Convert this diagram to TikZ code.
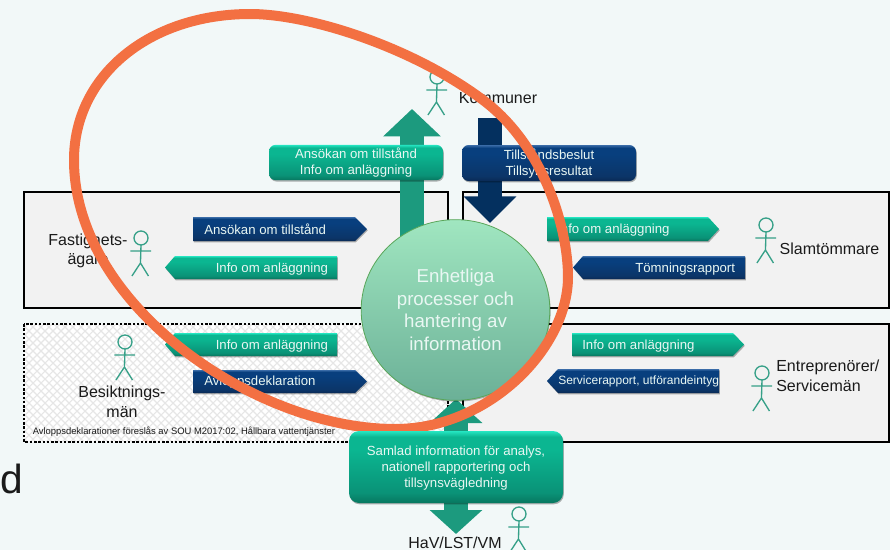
\documentclass[tikz,border=0pt]{standalone}
\usepackage{fontspec}
\setmainfont{Liberation Sans}
\usetikzlibrary{arrows.meta,shadows,shapes.geometric}
\definecolor{pagebg}{HTML}{F2F8F8}
\definecolor{boxbg}{HTML}{F2F2F2}
\definecolor{lat}{HTML}{E6E6E6}
\definecolor{ink}{HTML}{1A1A1A}
\definecolor{pale}{HTML}{E9F7F3}
\definecolor{bigg}{HTML}{1C9A7E}
\definecolor{bigb}{HTML}{04305F}
\definecolor{actorc}{HTML}{36A088}
\definecolor{ring}{HTML}{F37042}
\definecolor{gbot}{HTML}{07775F}
\definecolor{gdark}{HTML}{0A9277}
\definecolor{gmid}{HTML}{0BB691}
\definecolor{gtop}{HTML}{25E6C2}
\definecolor{bbot}{HTML}{0A2A55}
\definecolor{bdark}{HTML}{0B3568}
\definecolor{bmid}{HTML}{083F7E}
\definecolor{btop}{HTML}{3A6CA8}
\definecolor{hubb}{HTML}{6BB097}
\definecolor{hubt}{HTML}{A0E6C0}
\pgfdeclareverticalshading{greenbar}{100bp}{color(0bp)=(gbot);color(25bp)=(gbot);color(32bp)=(gdark);color(62bp)=(gmid);color(71bp)=(gmid);color(75bp)=(gtop);color(100bp)=(gtop)}
\pgfdeclareverticalshading{bluebar}{100bp}{color(0bp)=(bbot);color(25bp)=(bbot);color(32bp)=(bdark);color(62bp)=(bmid);color(71bp)=(bmid);color(75bp)=(btop);color(100bp)=(btop)}
\pgfdeclareverticalshading{hubshade}{100bp}{color(0bp)=(hubb);color(25bp)=(hubb);color(75bp)=(hubt);color(100bp)=(hubt)}
\newcommand\fz[1]{\fontsize{#1}{#1}\selectfont}
\newcommand\dropline{\rule{0pt}{8.7pt}}
\tikzset{
  x=0.75pt,y=-0.75pt,
  softshadow/.style={drop shadow={shadow xshift=0.6pt,shadow yshift=-1pt,fill=black,opacity=.3}},
  gbar/.style={shading=greenbar,softshadow},
  bbar/.style={shading=bluebar,softshadow},
  barlabel/.style={text=pale,font=\fz{9.9pt},inner sep=0pt,anchor=west},
  panel/.style={draw=black,line width=1.2pt,fill=boxbg},
  bigup/.style={bigg,line width=17.5pt},
  bigdown/.style={bigb,line width=17.5pt},
  roundbox/.style={rounded corners=5pt,inner sep=0pt,align=center,text=pale,font=\fz{9.9pt}},
  actorline/.style={draw=actorc,line width=1pt},
  who/.style={text=ink,font=\fz{12pt},inner sep=0pt,align=center},
}
% #1 name, #2 head x, #3 head y
\newcommand\actor[3]{%
  \coordinate (#1) at (#2,#3);
  \draw[actorline] (#1) circle (7);
  \draw[actorline] ([yshift=-5.25pt]#1) -- ([yshift=-18.75pt,xshift=-.4pt]#1)
     -- ([xshift=-6.8pt,yshift=-28.5pt]#1)
     ([yshift=-18.75pt,xshift=-.4pt]#1) -- ([xshift=5.6pt,yshift=-28.5pt]#1)
     ([xshift=-8pt,yshift=-9.75pt]#1) -- ([xshift=7.6pt,yshift=-9.75pt]#1);
}
% right-pointing bar: style x1 xb x2 y1 ym y2
\newcommand\barright[7]{\path[#1] (#2,#5) -- (#3,#5) -- (#4,#6) -- (#3,#7) -- (#2,#7) -- cycle;}
\newcommand\barleft[7]{\path[#1] (#4,#5) -- (#3,#5) -- (#2,#6) -- (#3,#7) -- (#4,#7) -- cycle;}
\begin{document}
\begin{tikzpicture}
\useasboundingbox (0,0) rectangle (890,550);
\fill[pagebg] (0,0) rectangle (890,550);
% panels
\draw[panel] (24,192) rectangle (448,308);
\draw[panel] (463,192) rectangle (889,308);
\draw[panel] (463,324) rectangle (889,442);
\fill[white] (24,324) rectangle (448,442);
\begin{scope}
  \clip (24,324) rectangle (448,442);
  \foreach \k in {-130,-122,...,460}{
    \draw[lat,line width=.8pt] (\k,324) -- ++(118,118);
    \draw[lat,line width=.8pt] (\k,442) -- ++(118,-118);
  }
\end{scope}
\draw[black,line width=1.8pt,dash pattern=on 1.9pt off 1.3pt] (24,324) rectangle (448,442);
% hub anchors and block arrows
\coordinate (upStart) at (412,260);
\coordinate (upTip) at (412,109);
\coordinate (downStart) at (490,118);
\coordinate (downTip) at (490,223);
\coordinate (botTop) at (456,399);
\coordinate (botEnd) at (456,534);
\draw[bigup,-{Triangle[length=20.5pt,width=42pt]}] (upStart) -- (upTip);
\draw[bigdown,-{Triangle[length=20pt,width=38.5pt]}] (downStart) -- (downTip);
\draw[bigup,line width=18.5pt,{Triangle[length=18pt,width=38.5pt]}-{Triangle[length=18pt,width=38.5pt]}] (botTop) -- (botEnd);
% rounded boxes
\node[gbar,roundbox,minimum width=130.5pt,minimum height=26.5pt] (boxA) at (356,162.5) {\dropline Ansökan om tillstånd\\[2.2pt]Info om anläggning};
\node[bbar,roundbox,minimum width=130.5pt,minimum height=27pt] (boxB) at (549,163) {\dropline Tillståndsbeslut\\[2.2pt]Tillsynsresultat};
% bars
\barright{bbar}{193}{355}{367}{217}{229}{241}
\node[barlabel] (t1) at (204,229.7) {Ansökan om tillstånd};
\barleft{gbar}{165}{175}{337}{256}{267.5}{279}
\node[barlabel] (t2) at (215.5,268.7) {Info om anläggning};
\barleft{gbar}{165}{175}{337}{333}{344.5}{356}
\node[barlabel] (t3) at (215.5,345.7) {Info om anläggning};
\barright{bbar}{193}{355}{367}{370}{381.5}{393}
\node[barlabel] (t4) at (204,382.2) {Avloppsdeklaration};
\barright{gbar}{547}{708}{719}{217}{229}{241}
\node[barlabel] (t5) at (557,229.7) {Info om anläggning};
\barleft{bbar}{573}{583}{745}{256}{267.5}{279}
\node[barlabel] (t6) at (635,268.7) {Tömningsrapport};
\barright{gbar}{572}{733}{744}{333}{344.5}{356}
\node[barlabel] (t7) at (582,345.7) {Info om anläggning};
\barleft{bbar}{547}{558}{719}{369}{381}{393}
\node[barlabel,font=\fz{9pt}] (t8) at (558,381.5) {Servicerapport, utförandeintyg};
% hub
\node[ellipse,shading=hubshade,draw=gray!70!green,line width=.6pt,minimum width=141.5pt,minimum height=135.5pt,inner sep=0pt,align=center,text=pale,font=\fz{14pt},softshadow] (hub) at (455.5,310) {Enhetliga\\[2.9pt]processer och\\[2.9pt]hantering av\\[2.9pt]information};
% actors
\actor{aK}{437}{77}
\actor{aF}{141}{238}
\actor{aB}{125}{342}
\actor{aS}{766}{225}
\actor{aE}{762}{373}
\actor{aH}{519}{514}
% labels
\node[who] (lK) at (498,98) {Kommuner};
\node[who] (lF) at (88,251) {Fastighets-\\[2.6pt]ägare};
\node[who] (lS) at (829.5,249) {Slamtömmare};
\node[who,align=left,anchor=west] (lE) at (776,376) {Entreprenörer/\\[2.6pt]Servicemän};
\node[who] (lB) at (122,402) {Besiktnings-\\[2.6pt]män};
\node[who] (lH) at (455,543) {HaV/LST/VM};
\node[text=ink,font=\fz{7.05pt},inner sep=0pt,anchor=west] (note) at (32.5,432) {Avloppsdeklarationer föreslås av SOU M2017:02, Hållbara vattentjänster};
\node[text=ink,font=\fz{30.5pt},inner sep=0pt,anchor=base west] (frag) at (0.5,493) {d};
% ring
\draw[ring,line width=7.5pt] (250,14) .. controls (310,14) and (413,47.5) .. (483,100)
  .. controls (543,145) and (568,227) .. (568,277)
  .. controls (568,347) and (490,429) .. (395,429)
  .. controls (255,429) and (74,305) .. (74,160)
  .. controls (74,75) and (150,14) .. (250,14) -- cycle;
\node[gbar,roundbox,rounded corners=7.5pt,minimum width=160.5pt,minimum height=54pt,font=\fz{9.9pt}] (boxC) at (456,467) {\dropline Samlad information för analys,\\[2.2pt]nationell rapportering och\\[2.2pt]tillsynsvägledning};
\end{tikzpicture}
\end{document}
